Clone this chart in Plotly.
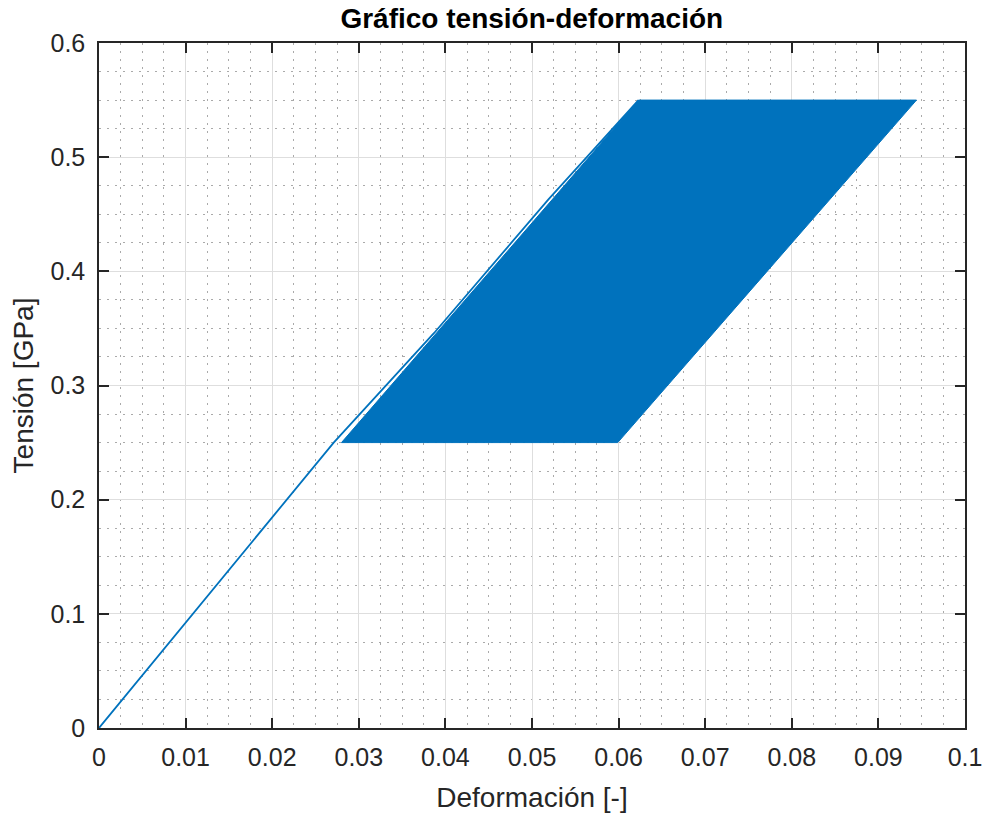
import plotly.graph_objects as go

# Initial loading path (strain [-], stress [GPa])
load_strain = [0.0, 0.0271, 0.0387, 0.0519, 0.0623]
load_stress = [0.0, 0.25, 0.346, 0.463, 0.55]

# Envelope of the ratcheting cycles (dense band of loops)
band_strain = [0.0280, 0.0623, 0.0944, 0.0599, 0.0280]
band_stress = [0.25, 0.55, 0.55, 0.25, 0.25]

x_ticks = [0, 0.01, 0.02, 0.03, 0.04, 0.05, 0.06, 0.07, 0.08, 0.09, 0.1]
x_labels = ["0", "0.01", "0.02", "0.03", "0.04", "0.05", "0.06", "0.07", "0.08", "0.09", "0.1"]
y_ticks = [0, 0.1, 0.2, 0.3, 0.4, 0.5, 0.6]
y_labels = ["0", "0.1", "0.2", "0.3", "0.4", "0.5", "0.6"]

BLUE = "#0072BD"
AX = "#262626"
FONT = "Liberation Sans, Arial, Helvetica, sans-serif"

fig = go.Figure()
fig.add_trace(go.Scatter(x=band_strain, y=band_stress, mode="lines", fill="toself",
                         fillcolor=BLUE, line=dict(color=BLUE, width=1), hoverinfo="skip"))
fig.add_trace(go.Scatter(x=load_strain, y=load_stress, mode="lines",
                         line=dict(color=BLUE, width=1.8)))

axis_common = dict(
    showline=True, linecolor=AX, linewidth=1.5, mirror="ticks",
    ticks="inside", ticklen=10, tickwidth=1.5, tickcolor=AX,
    showgrid=True, gridcolor="#dedede", gridwidth=1,
    zeroline=False, automargin=False,
    tickfont=dict(family=FONT, size=25, color=AX),
)

fig.update_xaxes(range=[0, 0.1], tickvals=x_ticks, ticktext=x_labels, ticklabelstandoff=6,
                 title=dict(text="Deformación [-]", font=dict(family=FONT, size=28, color=AX), standoff=18),
                 minor=dict(dtick=0.0025, showgrid=True, gridcolor="#aaaaaa", griddash="1.5px,6.5px", gridwidth=1, ticks=""),
                 **axis_common)
fig.update_yaxes(range=[0, 0.6], tickvals=y_ticks, ticktext=y_labels, ticklabelstandoff=7,
                 title=dict(text="Tensión [GPa]", font=dict(family=FONT, size=28, color=AX), standoff=9),
                 minor=dict(dtick=0.025, showgrid=True, gridcolor="#aaaaaa", griddash="1.5px,6.5px", gridwidth=1, ticks=""),
                 **axis_common)

fig.update_layout(
    width=983, height=816,
    margin=dict(l=99, r=18, t=43, b=88),
    paper_bgcolor="white", plot_bgcolor="white",
    showlegend=False,
    title=dict(text="<b>Gráfico tensión-deformación</b>", x=0.541, xanchor="center",
               y=0.978, yanchor="middle",
               font=dict(family=FONT, size=28, color="black")),
)

fig.write_html("out.html")
